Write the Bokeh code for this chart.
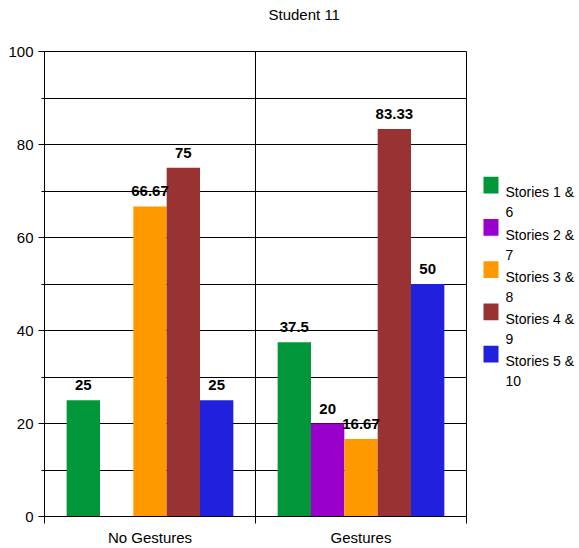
from bokeh.plotting import figure
from bokeh.layouts import row
from bokeh.models import ColumnDataSource, FixedTicker, LabelSet, Range1d, Title
from bokeh.transform import dodge
from bokeh.core.properties import value
from bokeh.embed import file_html
from bokeh.resources import INLINE

FONT = "Liberation Sans"

title_text = "Student 11"
categories = ["No Gestures", "Gestures"]
series_names = ["Stories 1 & 6", "Stories 2 & 7", "Stories 3 & 8",
                "Stories 4 & 9", "Stories 5 & 10"]
series_colors = ["#009639", "#9900cc", "#ff9900", "#993333", "#2020dd"]

stories_1_6 = [25, 37.5]
stories_2_7 = [0, 20]
stories_3_8 = [66.67, 16.67]
stories_4_9 = [75, 83.33]
stories_5_10 = [25, 50]
series_values = [stories_1_6, stories_2_7, stories_3_8, stories_4_9, stories_5_10]

y_major = [0, 20, 40, 60, 80, 100]
y_minor = [10, 30, 50, 70, 90]

BAR_W = 0.158
positions = [i + 0.5 for i in range(len(categories))]

# ---- main bar chart -------------------------------------------------------
p = figure(width=467, height=548, x_range=Range1d(0, len(categories)),
           y_range=Range1d(0, 100), output_backend="svg",
           toolbar_location=None, min_border_left=44, min_border_right=1,
           min_border_top=51, min_border_bottom=27)
p.background_fill_color = "white"
p.border_fill_color = "white"
p.outline_line_color = "black"

p.title.text = title_text
p.title.align = "left"
p.title.offset = 224
p.title.standoff = 0
p.title.text_font = FONT
p.title.text_font_size = "15px"
p.title.text_font_style = "normal"
p.title.text_color = "black"
# blank spacer panel between the title and the plot frame
p.add_layout(Title(text=" ", standoff=10, text_font=FONT,
                   text_font_size="15px"), "above")

# y axis and horizontal grid
yt = FixedTicker(ticks=y_major, minor_ticks=y_minor)
p.yaxis.ticker = yt
p.yaxis.major_tick_out = 6
p.yaxis.major_tick_in = 0
p.yaxis.minor_tick_out = 3
p.yaxis.minor_tick_in = 0
p.yaxis.axis_line_color = "black"
p.yaxis.major_tick_line_color = "black"
p.yaxis.minor_tick_line_color = "black"
p.yaxis.major_label_standoff = 5
p.yaxis.major_label_text_font = FONT
p.yaxis.major_label_text_font_size = "15px"
p.yaxis.major_label_text_color = "black"
p.ygrid.ticker = yt
p.ygrid.grid_line_color = "black"
p.ygrid.grid_line_alpha = 1
p.ygrid.minor_grid_line_color = "black"

# x axis: labels at group centres, ticks on group boundaries
xt = FixedTicker(ticks=positions, minor_ticks=list(range(len(categories) + 1)))
p.xaxis.ticker = xt
p.xaxis.major_label_overrides = {pos: cat for pos, cat in zip(positions, categories)}
p.xaxis.major_tick_out = 0
p.xaxis.major_tick_in = 0
p.xaxis.minor_tick_out = 7
p.xaxis.minor_tick_in = 0
p.xaxis.axis_line_color = "black"
p.xaxis.minor_tick_line_color = "black"
p.xaxis.major_label_standoff = 5
p.xaxis.major_label_text_font = FONT
p.xaxis.major_label_text_font_size = "15px"
p.xaxis.major_label_text_color = "black"
p.xgrid.ticker = FixedTicker(ticks=list(range(1, len(categories))))
p.xgrid.grid_line_color = "black"
p.xgrid.grid_line_alpha = 1

n = len(series_values)
for k, (vals, color) in enumerate(zip(series_values, series_colors)):
    offset = (k - (n - 1) / 2) * BAR_W
    src = ColumnDataSource(dict(pos=positions, val=vals))
    p.vbar(x=dodge("pos", offset), top="val", width=BAR_W, bottom=0,
           source=src, fill_color=color, line_color=None)

    # value labels above each non-empty bar
    shown = [(pp, v) for pp, v in zip(positions, vals) if v != 0]
    lsrc = ColumnDataSource(dict(pos=[s[0] for s in shown],
                                 val=[s[1] for s in shown],
                                 txt=[f"{s[1]:g}" for s in shown]))
    p.add_layout(LabelSet(x=dodge("pos", offset), y="val",
                          text="txt", source=lsrc, y_offset=10,
                          text_align="center", text_baseline="alphabetic",
                          text_font=value(FONT), text_font_size="15px",
                          text_font_style="bold", text_color="black"))

# ---- legend panel: x in pixels from its left edge, y in page pixels -------
LEG_W = 579 - 467
lg = figure(width=LEG_W, height=548, x_range=Range1d(0, LEG_W),
            y_range=Range1d(521, 51), output_backend="svg",
            toolbar_location=None, x_axis_type=None, y_axis_type=None,
            min_border=0)
lg.outline_line_color = None
lg.grid.visible = False
lg.background_fill_color = "white"
lg.border_fill_color = "white"

ITEM_TOP = 177.5
ITEM_STEP = 42.7
tops = [ITEM_TOP + i * ITEM_STEP for i in range(n)]
lg.quad(left=16, right=31, top=tops, bottom=[t + 17 for t in tops],
        fill_color=series_colors, line_color=None)

line1, line2, ys1, ys2 = [], [], [], []
for name, t in zip(series_names, tops):
    first, second = name.rsplit(" ", 1)
    line1.append(first)
    line2.append(second)
    ys1.append(t + 16)
    ys2.append(t + 36)
lg.text(x=[38] * (2 * n), y=ys1 + ys2, text=line1 + line2,
        text_font=value(FONT), text_font_size="14px",
        text_baseline="alphabetic", text_align="left", text_color="black")

open("out.html", "w").write(file_html(row(p, lg), INLINE))
